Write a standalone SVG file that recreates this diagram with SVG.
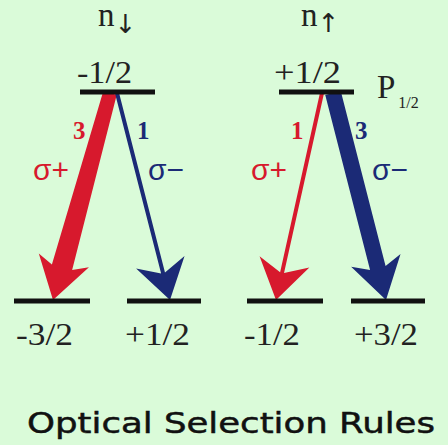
<svg xmlns="http://www.w3.org/2000/svg" width="448" height="445" viewBox="0 0 448 445">
<style>
.bar{stroke:#111;stroke-width:5;fill:none}
.lvl{font-family:"Liberation Serif",serif;font-size:31px;fill:#222}
.st{font-family:"Liberation Serif",serif;font-size:33px;fill:#222}
.ar{font-family:"DejaVu Sans",sans-serif;font-size:26px}
.num{font-family:"Liberation Serif",serif;font-size:25px;font-weight:bold}
.sig{font-family:"Liberation Sans",sans-serif;font-size:30px}
.red{fill:#d7192d}
.blue{fill:#1b2a76}
.title{font-family:"DejaVu Sans",sans-serif;font-size:29px;fill:#111;stroke:#111;stroke-width:0.5}
</style>
<rect width="448" height="445" fill="#dafbd9"/>
<g id="connectors">
  <path class="red" transform="translate(110,93) rotate(105.4)" d="M0,-7 L180.7,-10.5 L173.7,-26 L214.7,0 L173.7,26 L180.7,10.5 L0,7 Z"/>
  <path class="blue" transform="translate(117,93) rotate(75.64)" d="M0,-2 L185.7,-2 L174.7,-25 L213.7,0 L174.7,25 L185.7,2 L0,2 Z"/>
  <path class="red" transform="translate(322,93) rotate(102.53)" d="M0,-2 L184,-2 L173,-25.5 L212,0 L173,25.5 L184,2 L0,2 Z"/>
  <path class="blue" transform="translate(333,93) rotate(75.64)" d="M0,-8 L180.7,-8 L172.7,-25.5 L213.7,0 L172.7,25.5 L180.7,8 L0,8 Z"/>
  <text class="num red" x="73" y="139">3</text>
  <text class="num blue" x="137" y="139">1</text>
  <text class="num red" x="291" y="139">1</text>
  <text class="num blue" x="355" y="139">3</text>
  <text class="sig red" x="33" y="180">σ+</text>
  <text class="sig blue" x="148" y="180">σ−</text>
  <text class="sig red" x="251" y="180">σ+</text>
  <text class="sig blue" x="372" y="180">σ−</text>
</g>
<g id="top-left">
  <text class="st" x="98" y="26">n<tspan class="ar" dx="0" dy="7">↓</tspan></text>
  <text class="lvl" x="77" y="83" textLength="55" lengthAdjust="spacingAndGlyphs">-1/2</text>
  <line class="bar" x1="80" y1="92" x2="155" y2="92"/>
</g>
<g id="top-right">
  <text class="st" x="301" y="26">n<tspan class="ar" dx="0" dy="6">↑</tspan></text>
  <text class="lvl" x="274" y="83" textLength="67" lengthAdjust="spacingAndGlyphs">+1/2</text>
  <line class="bar" x1="279" y1="92" x2="354" y2="92"/>
  <text class="st" x="377" y="98" font-size="34">P<tspan font-size="16" dx="3" dy="10">1/2</tspan></text>
</g>
<g id="bottom-1">
  <line class="bar" x1="14" y1="301" x2="90" y2="301"/>
  <text class="lvl" x="16" y="345" textLength="57" lengthAdjust="spacingAndGlyphs">-3/2</text>
</g>
<g id="bottom-2">
  <line class="bar" x1="127" y1="301" x2="201" y2="301"/>
  <text class="lvl" x="125" y="345" textLength="65" lengthAdjust="spacingAndGlyphs">+1/2</text>
</g>
<g id="bottom-3">
  <line class="bar" x1="247" y1="301" x2="323" y2="301"/>
  <text class="lvl" x="244" y="345" textLength="56" lengthAdjust="spacingAndGlyphs">-1/2</text>
</g>
<g id="bottom-4">
  <line class="bar" x1="351" y1="301" x2="425" y2="301"/>
  <text class="lvl" x="354" y="345" textLength="64" lengthAdjust="spacingAndGlyphs">+3/2</text>
</g>
<text class="title" x="27" y="433" textLength="408" lengthAdjust="spacingAndGlyphs">Optical Selection Rules</text>
</svg>
